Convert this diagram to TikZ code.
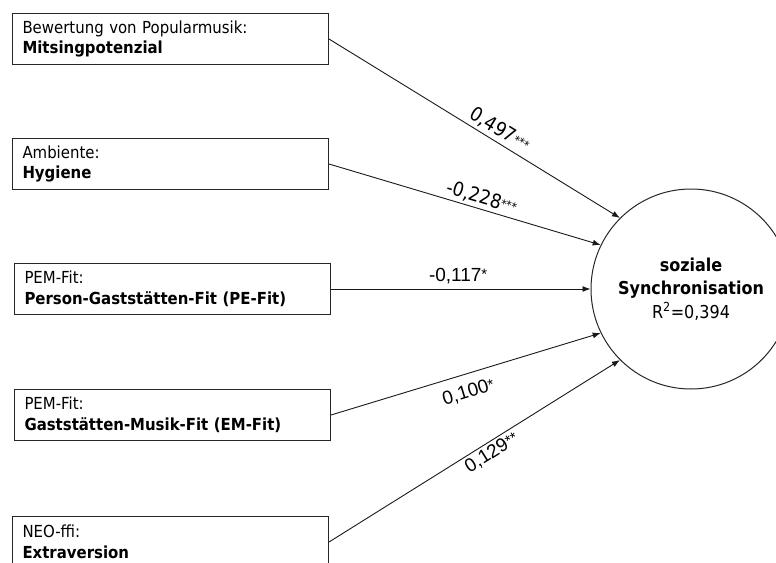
\documentclass[tikz,border=0pt]{standalone}
\usepackage{fontspec}
\setmainfont{DejaVu Sans Condensed}
\newfontfamily\coeffont{Liberation Sans}
\usetikzlibrary{arrows.meta}

% coefficient in Arial-like digits with raised stars
\newcommand{\coefval}[2]{{\coeffont\fontsize{19}{19}\selectfont #1\raisebox{1.5pt}{\fontsize{15}{15}\selectfont #2}}}
% coefficient in the condensed sans with small stars
\newcommand{\coefalt}[2]{{\fontsize{19.5}{19.5}\selectfont #1\raisebox{2pt}{\fontsize{12}{12}\selectfont #2}}}

\begin{document}
\begin{tikzpicture}[x=1pt,y=-1pt,
  varbox/.style={draw=black!85, line width=1pt, anchor=north west,
    minimum width=316pt, minimum height=51pt, text width=296pt,
    inner xsep=10pt, inner ysep=0pt, align=left,
    font=\fontsize{16.6}{20.5}\selectfont},
  latent/.style={draw=black!85, line width=1pt, circle, minimum size=200pt,
    inner sep=0pt, align=center, font=\fontsize{17.8}{23.5}\selectfont},
  path/.style={draw=black!90, line width=0.9pt, -{Latex[length=8pt,width=6pt]}},
  coef/.style={sloped, inner sep=0pt}
]
\useasboundingbox (0,0) rectangle (776,562);
\clip (0,0) rectangle (776,562);

\node[varbox] (b1) at (12,13)  {Bewertung von Popularmusik:\\\textbf{Mitsingpotenzial}};
\node[varbox] (b2) at (12,138) {Ambiente:\\\textbf{Hygiene}};
\node[varbox] (b3) at (14,263) {PEM-Fit:\\\textbf{Person-Gaststätten-Fit (PE-Fit)}};
\node[varbox] (b4) at (14,389) {PEM-Fit:\\\textbf{Gaststätten-Musik-Fit (EM-Fit)}};
\node[varbox] (b5) at (12,516) {NEO-ffi:\\\textbf{Extraversion}};

\node[latent] (syn) at (691,289) {\textbf{soziale}\\\textbf{Synchronisation}\\R\textsuperscript{2}=0,394};

\draw[path] (b1.east) -- node[coef, pos=0.565, above=3.5pt] {\coefalt{0,497}{***}} (syn.135);
\draw[path] (b2.east) -- node[coef, pos=0.55, above=2.5pt] {\coefalt{-0,228}{***}} (syn.154);
\draw[path] (b3.east) -- node[coef, pos=0.49, above=5pt] {\coefval{-0,117}{*}} (syn.180);
\draw[path] (b4.east) -- node[coef, pos=0.49, below=10pt] {\coefval{0,100}{*}} (syn.206);
\draw[path] (b5.east) -- node[coef, pos=0.54, below=2.5pt] {\coefval{0,129}{**}} (syn.225);
\end{tikzpicture}
\end{document}
